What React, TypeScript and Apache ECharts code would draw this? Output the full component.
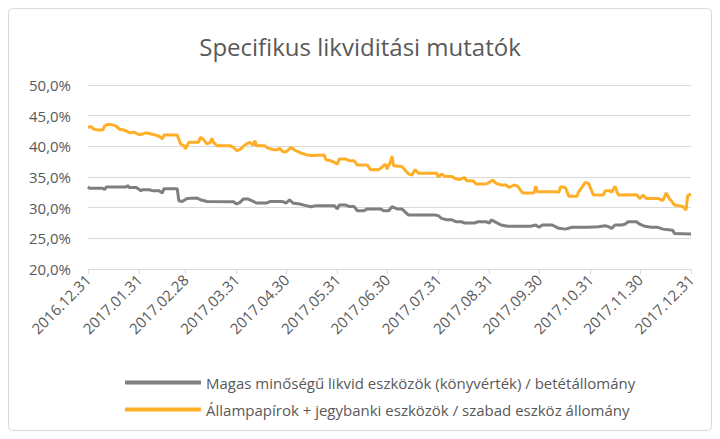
import React, { useEffect, useRef } from "react";
import * as echarts from "echarts";

const titleText = "Specifikus likviditási mutatók";
const grayName = "Magas minőségű likvid eszközök (könyvérték) / betétállomány";
const orangeName = "Állampapírok + jegybanki eszközök / szabad eszköz állomány";

const tickLabels = [
  "2016.12.31", "2017.01.31", "2017.02.28", "2017.03.31", "2017.04.30", "2017.05.31",
  "2017.06.30", "2017.07.31", "2017.08.31", "2017.09.30", "2017.10.31", "2017.11.30", "2017.12.31",
];
const yMin = 20;
const yMax = 50;
const yStep = 5;

const orangeDates = [
  "2016-12-31", "2017-01-02", "2017-01-03", "2017-01-05", "2017-01-08", "2017-01-09", "2017-01-10", "2017-01-12",
  "2017-01-15", "2017-01-17", "2017-01-19", "2017-01-21", "2017-01-23", "2017-01-25", "2017-01-28", "2017-01-31",
  "2017-02-02", "2017-02-04", "2017-02-06", "2017-02-09", "2017-02-12", "2017-02-14", "2017-02-15", "2017-02-23",
  "2017-02-25", "2017-02-27", "2017-02-28", "2017-03-02", "2017-03-08", "2017-03-09", "2017-03-11", "2017-03-13",
  "2017-03-15", "2017-03-16", "2017-03-17", "2017-03-19", "2017-03-27", "2017-03-29", "2017-03-31", "2017-04-02",
  "2017-04-04", "2017-04-06", "2017-04-08", "2017-04-10", "2017-04-11", "2017-04-12", "2017-04-17", "2017-04-19",
  "2017-04-22", "2017-04-25", "2017-04-26", "2017-04-28", "2017-04-30", "2017-05-03", "2017-05-05", "2017-05-08",
  "2017-05-12", "2017-05-15", "2017-05-23", "2017-05-24", "2017-05-27", "2017-05-29", "2017-05-31", "2017-06-01",
  "2017-06-05", "2017-06-07", "2017-06-10", "2017-06-12", "2017-06-18", "2017-06-20", "2017-06-25", "2017-06-27",
  "2017-06-29", "2017-06-30", "2017-07-02", "2017-07-03", "2017-07-04", "2017-07-09", "2017-07-11", "2017-07-13",
  "2017-07-15", "2017-07-17", "2017-07-19", "2017-07-29", "2017-07-30", "2017-07-31", "2017-08-02", "2017-08-04",
  "2017-08-08", "2017-08-10", "2017-08-12", "2017-08-14", "2017-08-16", "2017-08-17", "2017-08-21", "2017-08-23",
  "2017-08-29", "2017-08-31", "2017-09-02", "2017-09-04", "2017-09-07", "2017-09-10", "2017-09-12", "2017-09-15",
  "2017-09-17", "2017-09-20", "2017-09-27", "2017-09-28", "2017-09-29", "2017-10-10", "2017-10-12", "2017-10-13",
  "2017-10-16", "2017-10-18", "2017-10-23", "2017-10-24", "2017-10-26", "2017-10-28", "2017-10-30", "2017-10-31",
  "2017-11-02", "2017-11-08", "2017-11-09", "2017-11-12", "2017-11-13", "2017-11-15", "2017-11-17", "2017-11-28",
  "2017-11-30", "2017-12-02", "2017-12-04", "2017-12-11", "2017-12-14", "2017-12-16", "2017-12-18", "2017-12-19",
  "2017-12-21", "2017-12-26", "2017-12-28", "2017-12-29", "2017-12-31",
];
const orangeValues = [
  43.1, 43.2, 42.9, 42.7, 42.65, 42.7, 43.3, 43.6,
  43.5, 43.3, 42.8, 42.7, 42.55, 42.2, 42.3, 41.9,
  42.0, 42.2, 42.1, 41.9, 41.65, 41.2, 41.85, 41.85,
  40.4, 40.1, 39.6, 40.65, 40.65, 41.5, 41.1, 40.4,
  40.65, 41.3, 40.65, 40.1, 40.1, 39.84, 39.3, 39.46,
  40.0, 40.4, 40.65, 40.2, 40.9, 40.1, 40.1, 39.7,
  39.46, 39.46, 39.7, 39.13, 39.13, 39.84, 39.4, 39.0,
  38.64, 38.5, 38.6, 37.8, 37.66, 37.4, 37.1, 37.93,
  37.93, 37.66, 37.66, 36.96, 36.96, 36.2, 36.2, 36.6,
  37.1, 36.3, 37.4, 38.4, 36.85, 36.7, 36.1, 35.5,
  35.3, 36.2, 35.6, 35.6, 35.65, 34.95, 35.5, 35.1,
  35.1, 34.8, 34.6, 34.67, 34.95, 34.4, 34.4, 33.86,
  33.86, 34.13, 34.5, 33.97, 33.7, 33.7, 33.3, 33.7,
  33.5, 32.4, 32.4, 33.5, 32.6, 32.6, 32.5, 33.4,
  33.3, 31.85, 31.85, 32.6, 33.3, 34.13, 33.97, 33.3,
  32.06, 32.06, 32.77, 32.77, 32.5, 33.5, 32.06, 32.1,
  31.5, 32.06, 31.5, 31.5, 31.14, 32.4, 31.4, 31.14,
  30.43, 30.2, 29.6, 31.96, 32.2,
];

const grayDates = [
  "2016-12-31", "2017-01-01", "2017-01-09", "2017-01-10", "2017-01-11", "2017-01-23", "2017-01-24", "2017-01-25",
  "2017-01-29", "2017-01-30", "2017-02-01", "2017-02-02", "2017-02-06", "2017-02-08", "2017-02-12", "2017-02-14",
  "2017-02-15", "2017-02-23", "2017-02-24", "2017-02-26", "2017-03-01", "2017-03-07", "2017-03-09", "2017-03-13",
  "2017-03-29", "2017-03-31", "2017-04-02", "2017-04-04", "2017-04-07", "2017-04-09", "2017-04-12", "2017-04-18",
  "2017-04-20", "2017-04-28", "2017-04-30", "2017-05-02", "2017-05-04", "2017-05-08", "2017-05-12", "2017-05-15",
  "2017-05-18", "2017-05-29", "2017-05-31", "2017-06-01", "2017-06-05", "2017-06-07", "2017-06-10", "2017-06-12",
  "2017-06-16", "2017-06-18", "2017-06-26", "2017-06-28", "2017-07-01", "2017-07-03", "2017-07-06", "2017-07-09",
  "2017-07-13", "2017-07-29", "2017-07-31", "2017-08-02", "2017-08-05", "2017-08-08", "2017-08-11", "2017-08-14",
  "2017-08-16", "2017-08-22", "2017-08-24", "2017-08-29", "2017-08-31", "2017-09-01", "2017-09-04", "2017-09-07",
  "2017-09-11", "2017-09-25", "2017-09-28", "2017-09-30", "2017-10-02", "2017-10-08", "2017-10-12", "2017-10-16",
  "2017-10-20", "2017-10-30", "2017-11-05", "2017-11-09", "2017-11-11", "2017-11-13", "2017-11-15", "2017-11-19",
  "2017-11-21", "2017-11-23", "2017-11-28", "2017-11-30", "2017-12-03", "2017-12-07", "2017-12-11", "2017-12-14",
  "2017-12-20", "2017-12-21", "2017-12-31",
];
const grayValues = [
  33.42, 33.15, 33.15, 32.93, 33.37, 33.37, 33.6, 33.3,
  33.3, 33.15, 32.77, 32.93, 32.93, 32.77, 32.77, 32.4,
  33.1, 33.1, 31.14, 31.0, 31.5, 31.57, 31.3, 31.0,
  30.98, 30.6, 30.87, 31.4, 31.4, 31.14, 30.76, 30.76,
  31.0, 31.0, 30.76, 31.3, 30.76, 30.6, 30.33, 30.16,
  30.33, 30.33, 29.8, 30.43, 30.43, 30.2, 30.2, 29.5,
  29.5, 29.8, 29.8, 29.5, 29.5, 30.16, 29.8, 29.8,
  28.8, 28.8, 28.7, 28.26, 28.04, 28.04, 27.7, 27.7,
  27.5, 27.5, 27.7, 27.7, 27.5, 28.0, 27.6, 27.17,
  26.96, 26.96, 27.17, 26.8, 27.17, 27.17, 26.63, 26.5,
  26.8, 26.8, 26.9, 27.06, 26.9, 26.63, 27.17, 27.17,
  27.3, 27.7, 27.7, 27.3, 26.96, 26.8, 26.8, 26.5,
  26.3, 25.8, 25.7,
];

const FONT = "'Open Sans', 'Noto Sans', sans-serif";
const TEXT = "#595959";
const GRID = "#D9D9D9";

function toTime(s: string): number {
  const [y, m, d] = s.split(/[.-]/).map(Number);
  return Date.UTC(y, m - 1, d);
}
function pad(n: number): string {
  return n < 10 ? "0" + n : String(n);
}
function fmtDate(v: number): string {
  const d = new Date(v);
  return d.getUTCFullYear() + "." + pad(d.getUTCMonth() + 1) + "." + pad(d.getUTCDate());
}

export default function App() {
  const ref = useRef<HTMLDivElement>(null);
  useEffect(() => {
    if (!ref.current) return;
    const chart = echarts.init(ref.current, undefined, { renderer: "svg" });
    const tickVals = tickLabels.map(toTime);
    chart.setOption({
      animation: false,
      backgroundColor: "#ffffff",
      title: {
        text: titleText,
        left: "center",
        top: 29,
        textStyle: { fontFamily: FONT, fontSize: 24, fontWeight: "normal", color: TEXT },
      },
      graphic: [
        {
          type: "rect",
          shape: { x: 8.5, y: 8.5, width: 703, height: 422, r: 4 },
          style: { fill: "none", stroke: GRID, lineWidth: 1 },
          silent: true,
        },
      ],
      grid: { left: 88, right: 29, top: 85, bottom: 170 },
      xAxis: {
        type: "value",
        min: tickVals[0],
        max: tickVals[tickVals.length - 1],
        axisLine: { show: true, lineStyle: { color: GRID, width: 1 } },
        axisTick: { show: true, customValues: tickVals, length: 5, lineStyle: { color: GRID } },
        axisLabel: {
          customValues: tickVals,
          rotate: 45,
          formatter: (v: number) => fmtDate(v),
          color: TEXT,
          fontFamily: FONT,
          fontSize: 15,
          margin: 8,
        },
        splitLine: { show: false },
      },
      yAxis: {
        type: "value",
        min: yMin,
        max: yMax,
        interval: yStep,
        axisLine: { show: false },
        axisTick: { show: false },
        axisLabel: {
          formatter: (v: number) => v.toFixed(1).replace(".", ",") + "%",
          color: TEXT,
          fontFamily: FONT,
          fontSize: 15,
          margin: 17,
        },
        splitLine: { lineStyle: { color: GRID, width: 1 } },
      },
      legend: {
        orient: "vertical",
        left: 120,
        top: 370,
        itemWidth: 76,
        itemHeight: 4,
        itemGap: 12,
        icon: "rect",
        textStyle: { fontFamily: FONT, fontSize: 15, color: TEXT },
        data: [grayName, orangeName],
      },
      series: [
        {
          name: orangeName,
          type: "line",
          showSymbol: false,
          symbol: "none",
          data: orangeDates.map((d, i) => [toTime(d), orangeValues[i]]),
          lineStyle: { color: "#FFAF27", width: 3 },
          itemStyle: { color: "#FFAF27" },
          z: 2,
        },
        {
          name: grayName,
          type: "line",
          showSymbol: false,
          symbol: "none",
          data: grayDates.map((d, i) => [toTime(d), grayValues[i]]),
          lineStyle: { color: "#7F7F7F", width: 3 },
          itemStyle: { color: "#7F7F7F" },
          z: 3,
        },
      ],
    });
    return () => chart.dispose();
  }, []);
  return (
    <div
      ref={ref}
      style={{ position: "absolute", left: 0, top: 0, width: 720, height: 439 }}
    />
  );
}
